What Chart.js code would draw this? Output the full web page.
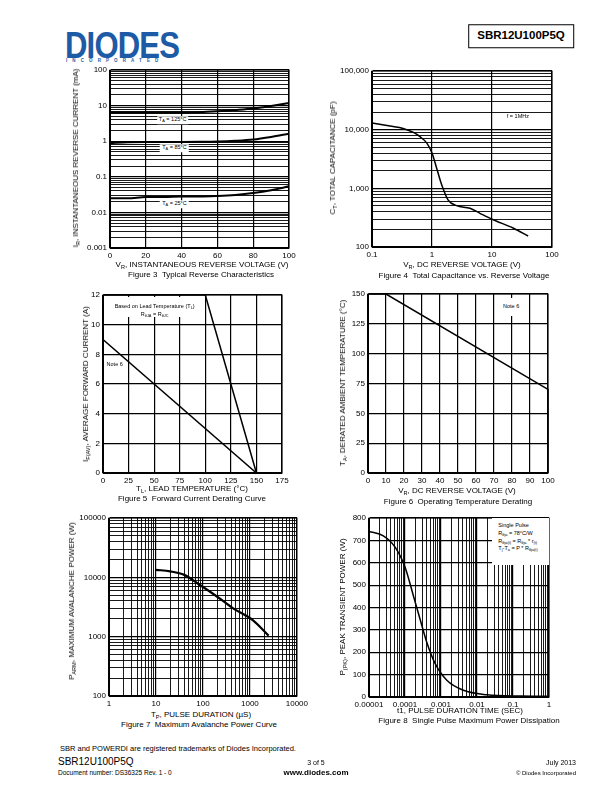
<!DOCTYPE html>
<html>
<head>
<meta charset="utf-8">
<script src="https://cdn.jsdelivr.net/npm/chart.js@4.4.0/dist/chart.umd.min.js"></script>
<style>
  body { margin: 0; background: #fff; font-family: "Liberation Sans", Arial, sans-serif; color: #000; }
  #page { position: relative; width: 612px; height: 792px; overflow: hidden; }
  .abs { position: absolute; white-space: nowrap; line-height: 1; }
  canvas { position: absolute; }
  sub { font-size: 70%; vertical-align: -0.3em; line-height: 0; }
  .box { background: #fff; font-size: 5.5px; }
</style>
</head>
<body>
<div id="page"></div>
<script>
const FONT = '"Liberation Sans", Arial, sans-serif';

// Figure 3 - typical reverse characteristics
const fig3Voltage = [0, 10, 20, 30, 40, 50, 60, 70, 80, 90, 100];
const fig3Current125 = [6.4, 6.4, 6.4, 6.4, 6.4, 6.5, 6.9, 7.5, 8.3, 9.8, 11.8];
const fig3Current85 = [0.88, 0.93, 0.95, 0.95, 0.95, 0.96, 0.98, 1.03, 1.12, 1.32, 1.62];
const fig3Current25 = [0.025, 0.025, 0.027, 0.027, 0.028, 0.028, 0.029, 0.031, 0.035, 0.042, 0.054];
const fig3XTicks = [0, 20, 40, 60, 80, 100];
const fig3YTicks = [0.001, 0.01, 0.1, 1, 10, 100];
const fig3YLabels = ['0.001', '0.01', '0.1', '1', '10', '100'];

// Figure 4 - total capacitance vs reverse voltage
const fig4Voltage = [0.1, 0.2, 0.33, 0.5, 0.63, 0.82, 1.0, 1.22, 1.45, 1.86, 2.57, 4.3, 6.3, 10, 22.8, 40];
const fig4Capacitance = [13000, 11500, 10500, 8900, 7600, 5900, 4000, 2050, 1150, 630, 507, 457, 375, 297, 209, 154];
const fig4XTicks = [0.1, 1, 10, 100];
const fig4XLabels = ['0.1', '1', '10', '100'];
const fig4YTicks = [100, 1000, 10000, 100000];
const fig4YLabels = ['100', '1,000', '10,000', '100,000'];

// Figure 5 - forward current derating
const fig5LeadTemp = [0, 100, 150];
const fig5LeadCurrent = [12, 12, 0];
const fig5NoteTemp = [0, 150];
const fig5NoteCurrent = [9, 0];
const fig5XTicks = [0, 25, 50, 75, 100, 125, 150, 175];
const fig5YTicks = [0, 2, 4, 6, 8, 10, 12];

// Figure 6 - operating temperature derating
const fig6Voltage = [0, 10, 100, 100];
const fig6Temp = [150, 150, 70, 0];
const fig6XTicks = [0, 10, 20, 30, 40, 50, 60, 70, 80, 90, 100];
const fig6YTicks = [0, 25, 50, 75, 100, 125, 150];

// Figure 7 - maximum avalanche power
const fig7Duration = [10, 20, 40, 85, 195, 440, 1150, 2500];
const fig7Power = [13400, 12600, 11000, 7500, 4800, 3000, 1900, 1040];
const fig7XTicks = [1, 10, 100, 1000, 10000];
const fig7XLabels = ['1', '10', '100', '1000', '10000'];
const fig7YTicks = [100, 1000, 10000, 100000];
const fig7YLabels = ['100', '1000', '10000', '100000'];

// Figure 8 - single pulse maximum power dissipation
const fig8Time = [1e-5, 2.5e-5, 5.3e-5, 1e-4, 1.7e-4, 2.6e-4, 4e-4, 6.9e-4, 1.45e-3, 4.2e-3, 0.019, 0.16, 1];
const fig8Power = [740, 720, 670, 581, 454, 350, 246, 149, 75, 30, 10, 4, 3];
const fig8XTicks = [0.00001, 0.0001, 0.001, 0.01, 0.1, 1];
const fig8XLabels = ['0.00001', '0.0001', '0.001', '0.01', '0.1', '1'];
const fig8YTicks = [0, 100, 200, 300, 400, 500, 600, 700, 800];

const page = document.getElementById('page');
const PAD_L = 42, PAD_T = 8, PAD_R = 14, PAD_B = 13;

function pts(xs, ys) {
  return xs.map((x, i) => ({ x: x, y: ys[i] }));
}

// majors get labels, log axes may add 2..9 minor lines between them
function tickList(majors, minors) {
  const out = [];
  majors.forEach((m, i) => {
    out.push({ value: m, major: true });
    if (minors && i < majors.length - 1) {
      for (let k = 2; k <= 9; k++) out.push({ value: Number((m * k).toPrecision(12)), major: false });
    }
  });
  return out;
}

function axis(isX, type, majors, labels, minors) {
  const list = tickList(majors, minors);
  return {
    type: type,
    min: majors[0],
    max: majors[majors.length - 1],
    position: isX ? 'bottom' : 'left',
    afterBuildTicks: s => { s.ticks = list.map(t => ({ value: t.value, major: t.major })); },
    afterFit: s => { if (isX) s.height = PAD_B; else s.width = PAD_L; },
    grid: {
      color: '#000',
      lineWidth: c => (c.tick && c.tick.major ? 1.2 : 0.9),
      drawTicks: false
    },
    border: { color: '#000', width: 1 },
    ticks: {
      autoSkip: false,
      maxRotation: 0,
      padding: 3,
      color: '#000',
      font: { family: FONT, size: 8 },
      callback: (v) => {
        const i = majors.findIndex(m => Math.abs(m - v) <= Math.abs(m) * 1e-9 + 1e-12);
        return i < 0 ? '' : (labels ? labels[i] : String(majors[i]));
      }
    }
  };
}

const frame = {
  id: 'frame',
  afterDraw(chart) {
    const a = chart.chartArea, ctx = chart.ctx;
    ctx.save();
    ctx.strokeStyle = '#000';
    ctx.lineWidth = 1;
    ctx.strokeRect(a.left, a.top, a.right - a.left, a.bottom - a.top);
    ctx.restore();
  }
};

function plot(area, datasets, xScale, yScale) {
  const canvas = document.createElement('canvas');
  const w = area[2] - area[0] + PAD_L + PAD_R;
  const h = area[3] - area[1] + PAD_T + PAD_B;
  canvas.width = w;
  canvas.height = h;
  canvas.style.left = (area[0] - PAD_L) + 'px';
  canvas.style.top = (area[1] - PAD_T) + 'px';
  canvas.style.width = w + 'px';
  canvas.style.height = h + 'px';
  page.appendChild(canvas);
  const chart = new Chart(canvas.getContext('2d'), {
    type: 'line',
    data: { datasets: datasets },
    options: {
      responsive: false,
      animation: false,
      devicePixelRatio: 1,
      layout: { padding: { top: PAD_T, right: PAD_R, left: 0, bottom: 0 } },
      plugins: { legend: { display: false }, tooltip: { enabled: false } },
      scales: { x: xScale, y: yScale },
      elements: {
        point: { radius: 0 },
        line: { borderColor: '#000', borderWidth: 1.5, tension: 0 }
      }
    },
    plugins: [frame]
  });
  chart.left0 = area[0] - PAD_L;
  chart.top0 = area[1] - PAD_T;
  return chart;
}

function text(x, y, html, size, align, extra) {
  const d = document.createElement('div');
  d.className = 'abs';
  d.innerHTML = html;
  d.style.left = x + 'px';
  d.style.top = y + 'px';
  d.style.fontSize = size + 'px';
  const tx = align === 'left' ? '0' : align === 'right' ? '-100%' : '-50%';
  d.style.transform = 'translate(' + tx + ',-50%)' + (align === 'rot' ? ' rotate(-90deg)' : '');
  if (extra) Object.assign(d.style, extra);
  page.appendChild(d);
  return d;
}

function note(chart, xv, yv, html, align, extra) {
  const x = chart.left0 + chart.scales.x.getPixelForValue(xv);
  const y = chart.top0 + chart.scales.y.getPixelForValue(yv);
  const d = text(x, y, html, 5.5, align, extra);
  d.classList.add('box');
  return d;
}

function noteBox(chart, x0, y0, x1, y1, html, extra) {
  const l = chart.left0 + chart.scales.x.getPixelForValue(x0);
  const r = chart.left0 + chart.scales.x.getPixelForValue(x1);
  const t = chart.top0 + chart.scales.y.getPixelForValue(y0);
  const b = chart.top0 + chart.scales.y.getPixelForValue(y1);
  const d = document.createElement('div');
  d.className = 'abs box';
  d.innerHTML = html;
  Object.assign(d.style, { left: l + 'px', top: t + 'px', width: (r - l) + 'px', height: (b - t) + 'px' }, extra || {});
  page.appendChild(d);
  return d;
}

// ---- header
text(65, 45, 'DIODES', 37, 'left', {
  fontWeight: 'bold', color: '#1d5ba6', transform: 'translate(0,-50%) scaleX(0.84)',
  transformOrigin: 'left center', letterSpacing: '-1px'
});
text(66, 61, 'INCORPORATED', 4.5, 'left', { letterSpacing: '5.1px', fontWeight: 'bold', color: '#1d5ba6' });
text(521, 36, 'SBR12U100P5Q', 11.5, 'center', {
  fontWeight: 'bold', border: '1px solid #000', padding: '5px 8px', lineHeight: '1'
});

// ---- Figure 3
const c3 = plot([110, 70, 289, 248], [
  { data: pts(fig3Voltage, fig3Current125), borderWidth: 2, cubicInterpolationMode: 'monotone' },
  { data: pts(fig3Voltage, fig3Current85), borderWidth: 2, cubicInterpolationMode: 'monotone' },
  { data: pts(fig3Voltage, fig3Current25), borderWidth: 2, cubicInterpolationMode: 'monotone' }
], axis(true, 'linear', fig3XTicks, null, false), axis(false, 'logarithmic', fig3YTicks, fig3YLabels, true));
note(c3, 35, 3.9, 'T<sub>A</sub> = 125°C', 'center', { padding: '1px 2px' });
note(c3, 36, 0.63, 'T<sub>A</sub> = 85°C', 'center', { padding: '1px 2px' });
note(c3, 36, 0.017, 'T<sub>A</sub> = 25°C', 'center', { padding: '1px 2px' });
text(76, 158, 'I<sub>R</sub>, INSTANTANEOUS REVERSE CURRENT (mA)', 8, 'rot');
text(202, 265, 'V<sub>R</sub>, INSTANTANEOUS REVERSE VOLTAGE (V)', 8, 'center');
text(201, 274.5, 'Figure 3&nbsp;&nbsp;Typical Reverse Characteristics', 8, 'center');

// ---- Figure 4
const c4 = plot([372, 71, 552, 247], [
  { data: pts(fig4Voltage, fig4Capacitance), borderWidth: 1.5, cubicInterpolationMode: 'monotone' }
], axis(true, 'logarithmic', fig4XTicks, fig4XLabels, false), axis(false, 'logarithmic', fig4YTicks, fig4YLabels, true));
note(c4, 27, 16400, 'f = 1MHz', 'center', { background: 'transparent' });
text(333, 158, 'C<sub>T</sub>, TOTAL CAPACITANCE (pF)', 8, 'rot');
text(462, 265, 'V<sub>R</sub>, DC REVERSE VOLTAGE (V)', 8, 'center');
text(464, 275.5, 'Figure 4&nbsp;&nbsp;Total Capacitance vs. Reverse Voltage', 8, 'center');

// ---- Figure 5
const c5 = plot([103, 295, 282, 473], [
  { data: pts(fig5LeadTemp, fig5LeadCurrent), borderWidth: 1.5, clip: 3 },
  { data: pts(fig5NoteTemp, fig5NoteCurrent), borderWidth: 1.5 }
], axis(true, 'linear', fig5XTicks, null, false), axis(false, 'linear', fig5YTicks, null, false));
noteBox(c5, 3, 11.85, 98, 10.55,
  '<div style="text-align:center;padding-top:5px;line-height:8px">Based on Lead Temperature (T<sub>L</sub>)<br>R<sub>θJA</sub> = R<sub>θJC</sub></div>');
note(c5, 3.5, 7.27, 'Note 6', 'left', { background: 'transparent' });
text(86, 384, 'I<sub>F(AV)</sub>, AVERAGE FORWARD CURRENT (A)', 8, 'rot');
text(192, 488.5, 'T<sub>L</sub>, LEAD TEMPERATURE (°C)', 8, 'center');
text(192, 499, 'Figure 5&nbsp;&nbsp;Forward Current Derating Curve', 8, 'center');

// ---- Figure 6
const c6 = plot([368, 294, 548, 473], [
  { data: pts(fig6Voltage, fig6Temp), borderWidth: 1.5, clip: 3 }
], axis(true, 'linear', fig6XTicks, null, false), axis(false, 'linear', fig6YTicks, null, false));
noteBox(c6, 73.5, 146.5, 85.5, 131.5,
  '<div style="text-align:center;padding-top:6px">Note 6</div>');
text(343, 383, 'T<sub>A</sub>, DERATED AMBIENT TEMPERATURE (°C)', 8, 'rot');
text(457, 491, 'V<sub>R</sub>, DC REVERSE VOLTAGE (V)', 8, 'center');
text(458, 501.5, 'Figure 6&nbsp;&nbsp;Operating Temperature Derating', 8, 'center');

// ---- Figure 7
const c7 = plot([109, 518, 297, 696], [
  { data: pts(fig7Duration, fig7Power), borderWidth: 2.2, cubicInterpolationMode: 'monotone' }
], axis(true, 'logarithmic', fig7XTicks, fig7XLabels, true), axis(false, 'logarithmic', fig7YTicks, fig7YLabels, true));
text(72, 601, 'P<sub>ARM</sub>, MAXIMUM AVALANCHE POWER (W)', 8, 'rot');
text(201, 714.5, 'T<sub>P</sub>, PULSE DURATION (µS)', 8, 'center');
text(199, 725, 'Figure 7&nbsp;&nbsp;Maximum Avalanche Power Curve', 8, 'center');

// ---- Figure 8
const c8 = plot([369, 518, 549, 697], [
  { data: pts(fig8Time, fig8Power), borderWidth: 1.5, cubicInterpolationMode: 'monotone' }
], axis(true, 'logarithmic', fig8XTicks, fig8XLabels, true), axis(false, 'linear', fig8YTicks, null, false));
noteBox(c8, 0.0267, 799, 0.98, 592,
  '<div style="padding:4px 0 0 6px;line-height:7.7px">Single Pulse<br>R<sub>θja</sub> = 78°C/W<br>' +
  'R<sub>θja(t)</sub> = R<sub>θja</sub> * r<sub>(t)</sub><br>T<sub>j</sub>-T<sub>a</sub> = P * R<sub>θja(t)</sub></div>');
text(343, 607, 'P<sub>(PK)</sub>, PEAK TRANSIENT POWER (W)', 8, 'rot');
text(460, 711, 't1, PULSE DURATION TIME (SEC)', 8, 'center');
text(469, 721, 'Figure 8&nbsp;&nbsp;Single Pulse Maximum Power Dissipation', 8, 'center');

// ---- footer
text(60, 749, 'SBR and POWERDI are registered trademarks of Diodes Incorporated.', 7.5, 'left');
text(58, 762, 'SBR12U100P5Q', 10, 'left');
text(58, 773, 'Document number: DS36325 Rev. 1 - 0', 6.5, 'left');
text(316, 762, '3 of 5', 7, 'center');
text(316, 772.5, 'www.diodes.com', 8, 'center', { fontWeight: 'bold' });
text(576, 762, 'July 2013', 7, 'right');
text(576, 772.5, '© Diodes Incorporated', 6, 'right');
</script>
</body>
</html>
